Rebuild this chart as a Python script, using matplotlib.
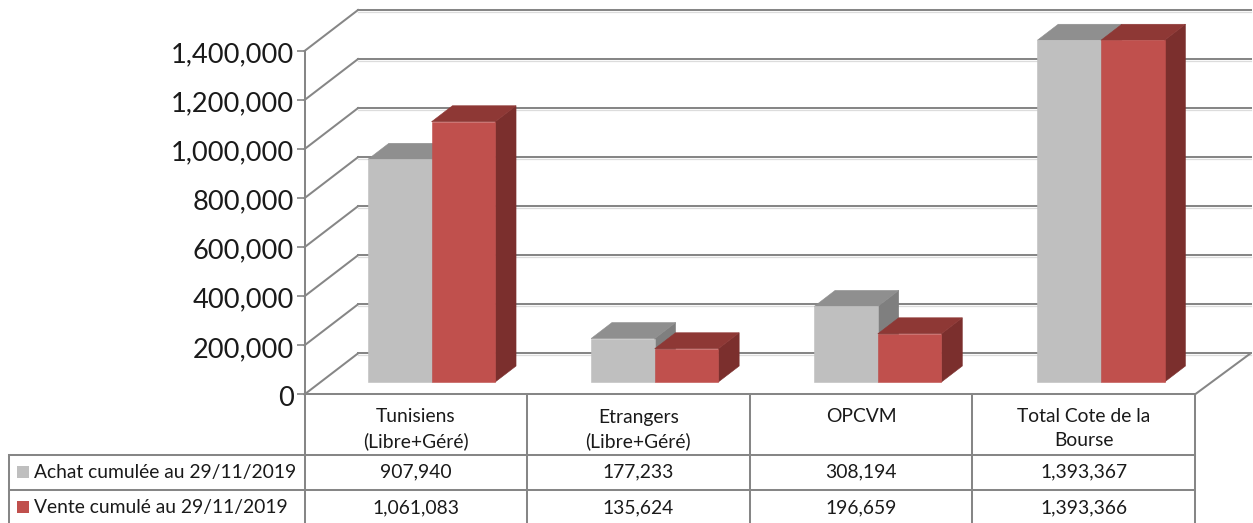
import matplotlib
matplotlib.use("Agg")
import matplotlib.pyplot as plt
from matplotlib.patches import Polygon
from matplotlib.transforms import Affine2D

categories = ["Tunisiens\n(Libre+Géré)", "Etrangers\n(Libre+Géré)", "OPCVM", "Total Cote de la\nBourse"]
series_names = ["Achat cumulée au 29/11/2019", "Vente cumulé au 29/11/2019"]
achat = [907940, 177233, 308194, 1393367]
vente = [1061083, 135624, 196659, 1393366]
yticks = [0, 200000, 400000, 600000, 800000, 1000000, 1200000, 1400000]

W, H = 1253, 523
plt.rcParams['font.family'] = ['Lato', 'DejaVu Sans']
fig = plt.figure(figsize=(W/100, H/100), dpi=100)

L, R_AX, R, Y0, Y1 = 304.5, 1197.0, 1195.0, 394.4, 51.0
ax = fig.add_axes([L/W, 1-Y0/H, (R_AX-L)/W, (Y0-Y1)/H])
ax.set_xlim(0, 4)
ax.set_ylim(0, 1400000)
ax.patch.set_alpha(0)
for s in ["top", "right", "bottom"]:
    ax.spines[s].set_visible(False)

GRID = "#868686"
LW = 1.45
ax.spines["left"].set_color(GRID)
ax.spines["left"].set_linewidth(LW)
ax.set_yticks(yticks, [f"{v:,}" for v in yticks])
ax.tick_params(axis="y", length=5.8, width=1.2, color=GRID, labelsize=19.6, pad=2, labelcolor="#1a1a1a")
ax.set_xticks([])
for lab in ax.get_yticklabels():
    lab.set_transform(lab.get_transform() + Affine2D().translate(0, -1.5))

DX, DY = 53.5, 41.0   # full depth of the floor in pixels


def depth(f, extra_y=0):
    return ax.transData + Affine2D().translate(DX*f, DY*f + extra_y)


for v in yticks:
    # shadow + grid on the back wall and the left side wall
    ax.plot([0, 4], [v, v], transform=depth(1, -1.7), color="#dcdcdc", lw=0.9, clip_on=False, zorder=1)
    ax.plot([0, 4], [v, v], transform=depth(1), color=GRID, lw=LW, clip_on=False, zorder=1.2)
    x0, y0 = ax.transData.transform((0, v))
    ax.plot([x0, x0+DX], [y0, y0+DY], transform=None, color=GRID, lw=LW, clip_on=False, zorder=1.2)

F0, F1 = 0.29, 0.68   # bar depth limits
HALF = 0.285

COLORS = [("#BFBFBF", "#8F8F8F", "#7F7F7F"), ("#C0504D", "#8E3835", "#7B2F2D")]


def bar(xl, xr, v, cols, z):
    front, top, side = cols
    tf, tb_ = depth(F0, 0.5), depth(F1, 0.5)
    disp = lambda t, p: tuple(t.transform(p))
    fl0, fr0 = disp(tf, (xl, 0)), disp(tf, (xr, 0))
    fl1, fr1 = disp(tf, (xl, v)), disp(tf, (xr, v))
    bl1, br1 = disp(tb_, (xl, v)), disp(tb_, (xr, v))
    br0 = disp(tb_, (xr, 0))
    for pts, c in (([fr0, br0, br1, fr1], side), ([fl1, fr1, br1, bl1], top), ([fl0, fr0, fr1, fl1], front)):
        ax.add_patch(Polygon(pts, closed=True, transform=None, facecolor=c, edgecolor=c, lw=0.4,
                             clip_on=False, zorder=z))


for i in range(len(categories)):
    c = i + 0.5
    bar(c-HALF, c, achat[i], COLORS[0], 3+i*0.1)
    bar(c, c+HALF, vente[i], COLORS[1], 3.05+i*0.1)

# data table, drawn in pixel space
tb = fig.add_axes([0, 0, 1, 1], zorder=5)
tb.set_xlim(0, W)
tb.set_ylim(H, 0)
tb.axis("off")
tb.patch.set_alpha(0)

TEXT = "#1a1a1a"
TS = 13.9
cell = (R-L)/len(categories)
ROWS = [394.4, 454.6, 489.7, 523]
LEFT = 9.3
# floor front edge and right edge
tb.plot([L, R], [ROWS[0]]*2, color=GRID, lw=LW)
tb.plot([R, R_AX+DX], [ROWS[0], ROWS[0]-DY], color=GRID, lw=LW, clip_on=False)
for k in range(len(categories)+1):
    tb.plot([L+k*cell]*2, [ROWS[0], ROWS[3]], color=GRID, lw=LW, clip_on=False)
tb.plot([LEFT, LEFT], [ROWS[1], ROWS[3]], color=GRID, lw=LW, clip_on=False)
tb.plot([LEFT, R], [ROWS[1]]*2, color=GRID, lw=LW)
tb.plot([LEFT, R], [ROWS[2]]*2, color=GRID, lw=LW)

for i, name in enumerate(categories):
    cx = L + (i+0.5)*cell
    tb.text(cx, 408.5, name, ha="center", va="top", fontsize=TS, color=TEXT, linespacing=1.48)
    tb.text(cx, 472, f"{achat[i]:,}", ha="center", va="center", fontsize=TS, color=TEXT)
    tb.text(cx, 507.5, f"{vente[i]:,}", ha="center", va="center", fontsize=TS, color=TEXT)

for j, (name, ymid) in enumerate(zip(series_names, (471.5, 506))):
    tb.add_patch(plt.Rectangle((17, ymid-5.5), 12, 12, facecolor=COLORS[j][0], edgecolor="none"))
    tb.text(34, ymid+1.2, name, ha="left", va="center", fontsize=TS, color=TEXT)

fig.savefig("out.png", dpi=100)
